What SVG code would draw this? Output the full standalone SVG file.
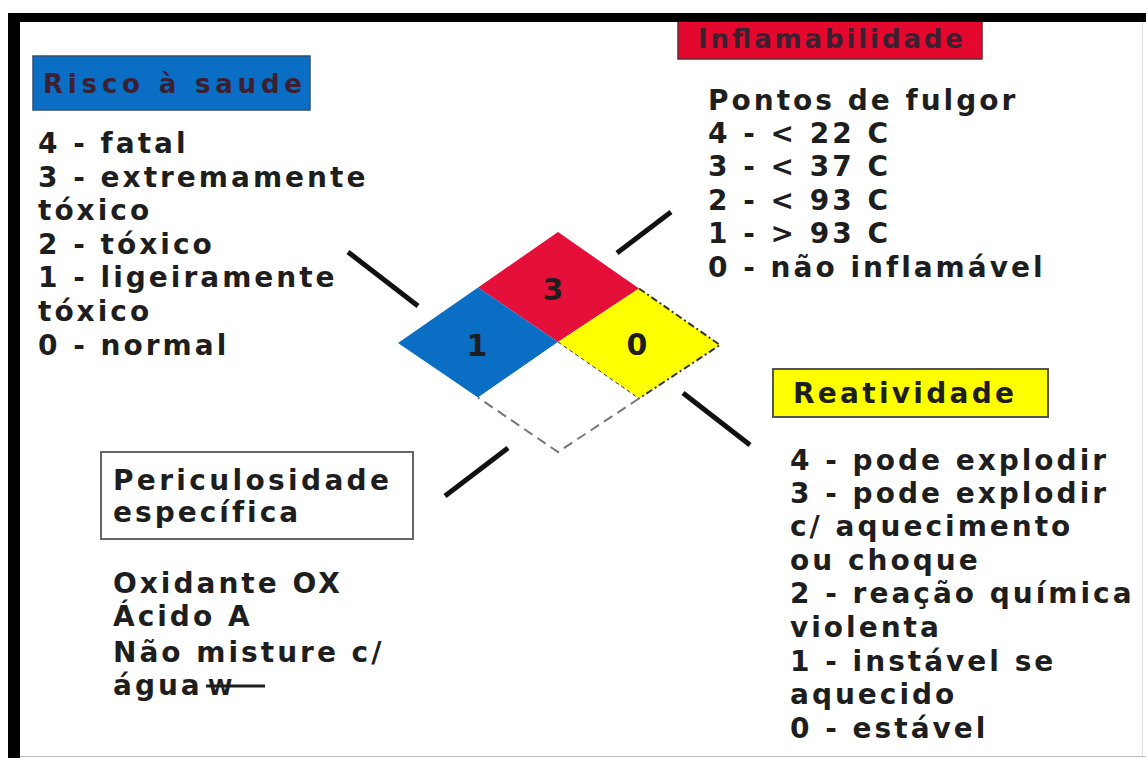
<svg xmlns="http://www.w3.org/2000/svg" width="1146" height="758" viewBox="0 0 1146 758">
<style>
.t{font-family:"DejaVu Sans","Liberation Sans",sans-serif;font-weight:bold;font-size:28px;fill:#1e1e1e;letter-spacing:3px}
.h{font-family:"DejaVu Sans","Liberation Sans",sans-serif;font-weight:bold;font-size:26px;fill:#3a2030}
.n{font-family:"DejaVu Sans","Liberation Sans",sans-serif;font-weight:bold;font-size:30px;fill:#1e1e1e;text-anchor:middle}
.conn{stroke:#111;stroke-width:5;stroke-linecap:butt}
</style>
<rect x="0" y="0" width="1146" height="758" fill="#fff"/>
<rect x="8" y="13" width="12" height="745" fill="#000"/>
<line x1="20" y1="756.5" x2="1146" y2="756.5" stroke="#bbb" stroke-width="1"/>
<line x1="1142.5" y1="22" x2="1142.5" y2="758" stroke="#ddd" stroke-width="1"/>

<g id="risco">
<rect x="33" y="56" width="277" height="54" fill="#0A6EC4" stroke="#355070" stroke-width="1.5"/>
<text class="h" x="43" y="93" textLength="259" lengthAdjust="spacing">Risco à saude</text>
<text class="t" x="38" y="153">4 - fatal</text>
<text class="t" x="38" y="187">3 - extremamente</text>
<text class="t" x="38" y="220">tóxico</text>
<text class="t" x="38" y="254">2 - tóxico</text>
<text class="t" x="38" y="287">1 - ligeiramente</text>
<text class="t" x="38" y="321">tóxico</text>
<text class="t" x="38" y="355">0 - normal</text>
</g>

<g id="inflamabilidade">
<rect x="678" y="14" width="304" height="45" fill="#E5082E" stroke="#6a2a30" stroke-width="1.5"/>
<text class="h" x="698" y="48" textLength="265" lengthAdjust="spacing">Inflamabilidade</text>
<text class="t" x="708" y="110">Pontos de fulgor</text>
<text class="t" x="708" y="143">4 - &lt; 22 C</text>
<text class="t" x="708" y="176">3 - &lt; 37 C</text>
<text class="t" x="708" y="210">2 - &lt; 93 C</text>
<text class="t" x="708" y="243">1 - &gt; 93 C</text>
<text class="t" x="708" y="277">0 - não inflamável</text>
</g>
<rect x="8" y="13" width="1138" height="9" fill="#000"/>

<g id="reatividade">
<rect x="773" y="369" width="275" height="48" fill="#FFFF00" stroke="#555" stroke-width="2"/>
<text class="t" x="793" y="403" textLength="224" lengthAdjust="spacing">Reatividade</text>
<text class="t" x="790" y="470">4 - pode explodir</text>
<text class="t" x="790" y="503">3 - pode explodir</text>
<text class="t" x="790" y="536">c/ aquecimento</text>
<text class="t" x="790" y="570">ou choque</text>
<text class="t" x="790" y="603">2 - reação química</text>
<text class="t" x="790" y="637">violenta</text>
<text class="t" x="790" y="671">1 - instável se</text>
<text class="t" x="790" y="704">aquecido</text>
<text class="t" x="790" y="738">0 - estável</text>
</g>

<g id="periculosidade">
<rect x="101" y="452" width="312" height="87" fill="#fff" stroke="#666" stroke-width="2"/>
<text class="t" x="113" y="490" textLength="279" lengthAdjust="spacing">Periculosidade</text>
<text class="t" x="113" y="522">específica</text>
<text class="t" x="113" y="593">Oxidante OX</text>
<text class="t" x="113" y="626">Ácido A</text>
<text class="t" x="113" y="662">Não misture c/</text>
<text class="t" x="113" y="695">água</text>
<text class="t" x="208" y="695" style="font-size:22px;letter-spacing:0">W</text>
<line x1="206" y1="686" x2="265" y2="686" stroke="#1e1e1e" stroke-width="3"/>
</g>

<g id="diamond">
<polygon points="558,232 639,288.5 558,342 478,287.5" fill="#E5103A"/>
<polygon points="478,287.5 558,342 478,397.5 398,343" fill="#0A6EC4"/>
<polygon points="639,288.5 720,345 639,398.5 558,342" fill="#FFFF00"/>
<polygon points="558,342 639,398.5 558,452 478,397.5" fill="#fff"/>
<polyline points="639,288.5 720,345 639,398.5" fill="none" stroke="#333" stroke-width="2" stroke-dasharray="7 3 2 3"/>
<line x1="558" y1="342" x2="639" y2="398.5" stroke="#333" stroke-width="1" stroke-dasharray="4 3"/>
<polyline points="639,398.5 558,452 478,397.5" fill="none" stroke="#777" stroke-width="2" stroke-dasharray="10 6"/>
<text class="n" x="553" y="300">3</text>
<text class="n" x="477" y="356">1</text>
<text class="n" x="637" y="355">0</text>
</g>

<g id="connectors">
<line class="conn" x1="348" y1="252" x2="418" y2="306"/>
<line class="conn" x1="617" y1="253" x2="671" y2="212"/>
<line class="conn" x1="683" y1="393" x2="750" y2="445"/>
<line class="conn" x1="445" y1="496" x2="508" y2="448"/>
</g>
</svg>
